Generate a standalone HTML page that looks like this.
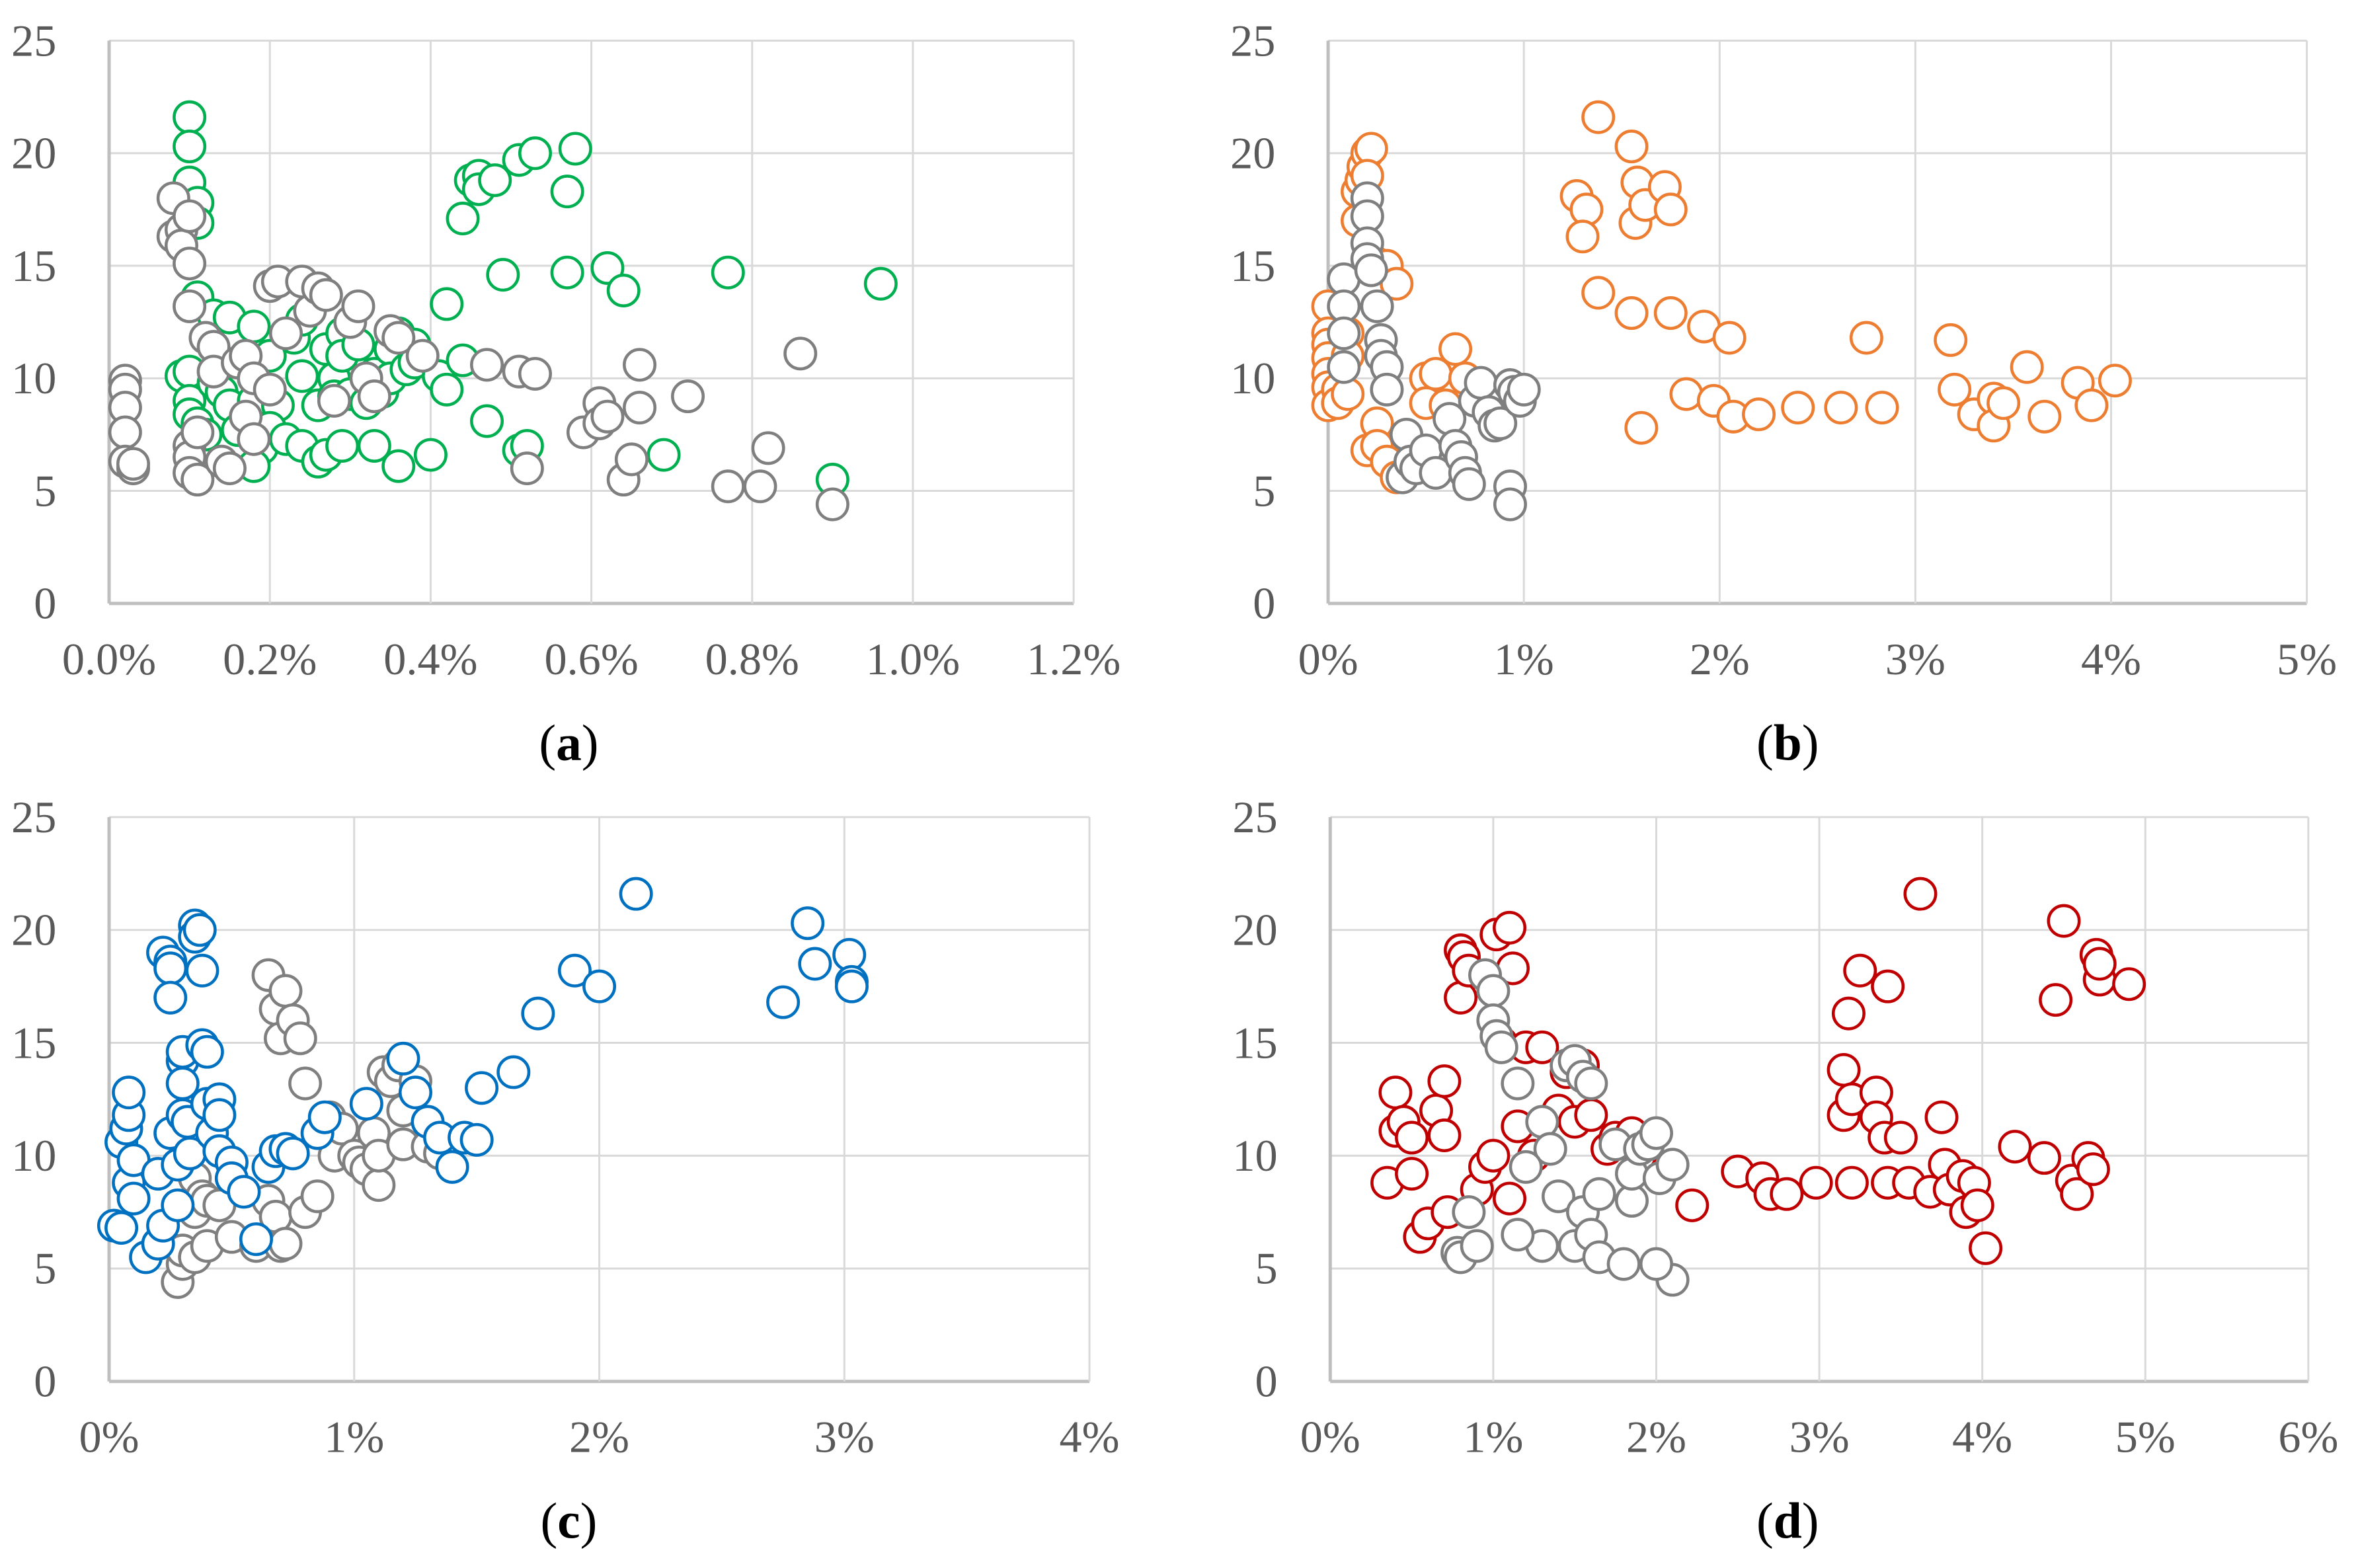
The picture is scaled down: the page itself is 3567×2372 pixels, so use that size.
<!DOCTYPE html>
<html><head><meta charset="utf-8"><style>
html,body{margin:0;padding:0;background:#fff;}
svg{display:block;}
svg text{font-family:"Liberation Serif","Times New Roman",Times,serif !important;}
</style></head><body>
<svg id="root" width="3567" height="2372" viewBox="0 0 1567 1042" xmlns="http://www.w3.org/2000/svg"></svg>
<script>
const yTicks=[0,5,10,15,20,25];
const xTicksA=[0,0.2,0.4,0.6,0.8,1.0,1.2];
const xLabelsA=["0.0%","0.2%","0.4%","0.6%","0.8%","1.0%","1.2%"];
const xTicksB=[0,1,2,3,4,5];
const xLabelsB=["0%","1%","2%","3%","4%","5%"];
const xTicksC=[0,1,2,3,4];
const xLabelsC=["0%","1%","2%","3%","4%"];
const xTicksD=[0,1,2,3,4,5,6];
const xLabelsD=["0%","1%","2%","3%","4%","5%","6%"];

const grayA=[[0.02,9.9],[0.02,9.5],[0.02,8.7],[0.02,7.6],[0.02,6.3],[0.03,6],[0.03,6.2],[0.08,18],[0.08,16.3],[0.09,16.6],[0.09,15.9],[0.1,17.2],[0.1,15.1],[0.1,13.2],[0.1,7],[0.1,6.5],[0.1,5.8],[0.11,5.5],[0.11,7.6],[0.12,11.8],[0.13,11.4],[0.13,10.3],[0.14,6.3],[0.15,6],[0.16,10.7],[0.17,11],[0.17,8.3],[0.18,10],[0.18,7.3],[0.2,9.5],[0.2,14.1],[0.21,14.3],[0.22,12],[0.24,14.3],[0.25,13],[0.26,14],[0.27,13.7],[0.28,9],[0.3,12.5],[0.31,13.2],[0.32,10],[0.33,9.2],[0.35,12.1],[0.36,11.8],[0.39,11],[0.47,10.6],[0.51,10.3],[0.52,6],[0.53,10.2],[0.59,7.6],[0.61,8.9],[0.61,8],[0.62,8.3],[0.64,5.5],[0.65,6.4],[0.66,8.7],[0.66,10.6],[0.72,9.2],[0.77,5.2],[0.81,5.2],[0.82,6.9],[0.86,11.1],[0.9,4.4]];
const greenA=[[0.1,21.6],[0.1,20.3],[0.1,18.7],[0.11,17.8],[0.11,16.9],[0.11,13.6],[0.09,10.1],[0.1,10.3],[0.1,9],[0.1,8.4],[0.11,8],[0.12,7.5],[0.13,12.8],[0.15,12.7],[0.13,9.8],[0.14,9.4],[0.15,8.8],[0.16,7.7],[0.17,11],[0.18,12.3],[0.18,10],[0.18,9],[0.19,6.9],[0.18,6.1],[0.2,11],[0.21,8.8],[0.2,7.8],[0.22,7.3],[0.23,11.8],[0.24,12.6],[0.24,10.1],[0.24,7],[0.26,6.3],[0.27,6.6],[0.26,8.8],[0.27,11.3],[0.28,10],[0.28,9.2],[0.29,12],[0.29,11],[0.29,7],[0.3,9.3],[0.31,11.5],[0.32,8.9],[0.33,10.2],[0.33,7],[0.34,9.4],[0.35,11.3],[0.35,10],[0.36,12],[0.36,6.1],[0.37,10.4],[0.38,11.5],[0.38,10.7],[0.4,6.6],[0.41,10.1],[0.42,13.3],[0.42,9.5],[0.44,17.1],[0.44,10.8],[0.45,18.8],[0.46,19],[0.46,18.4],[0.47,8.1],[0.48,18.8],[0.49,14.6],[0.51,19.7],[0.51,6.8],[0.52,7],[0.53,20],[0.57,18.3],[0.57,14.7],[0.58,20.2],[0.62,14.9],[0.64,13.9],[0.69,6.6],[0.77,14.7],[0.9,5.5],[0.96,14.2]];
const grayB=[[0.08,14.4],[0.08,13.2],[0.08,12],[0.08,10.5],[0.2,18],[0.2,17.2],[0.2,16],[0.2,15.3],[0.22,14.8],[0.25,13.2],[0.27,11.7],[0.27,11],[0.3,10.5],[0.3,9.5],[0.38,5.6],[0.4,7.5],[0.42,6.3],[0.45,6],[0.5,6.8],[0.55,5.8],[0.62,8.2],[0.65,7],[0.68,6.5],[0.7,5.8],[0.72,5.3],[0.75,9],[0.78,9.8],[0.82,8.5],[0.85,7.9],[0.88,8],[0.93,9.7],[0.95,9.4],[0.98,9],[1,9.5],[0.93,5.2],[0.93,4.4]];
const orangeB=[[0,13.2],[0,12],[0,11.5],[0,10.9],[0,10.2],[0,9.6],[0,8.8],[0.05,9.5],[0.05,8.9],[0.1,9.3],[0.1,12],[0.1,11],[0.15,17],[0.15,18.3],[0.17,18.8],[0.18,19.4],[0.2,20],[0.22,20.2],[0.2,19],[0.25,15.1],[0.3,15],[0.35,14.2],[0.25,8],[0.2,6.8],[0.25,7],[0.3,6.3],[0.35,5.6],[0.5,10],[0.5,8.9],[0.55,10.2],[0.6,8.8],[0.65,11.3],[0.7,10],[1.27,18.1],[1.32,17.5],[1.3,16.3],[1.38,21.6],[1.38,13.8],[1.55,20.3],[1.55,12.9],[1.57,16.9],[1.58,18.7],[1.62,17.7],[1.72,18.5],[1.75,17.5],[1.6,7.8],[1.75,12.9],[1.83,9.3],[1.92,12.3],[1.97,9],[2.05,11.8],[2.07,8.3],[2.2,8.4],[2.4,8.7],[2.62,8.7],[2.75,11.8],[2.83,8.7],[3.18,11.7],[3.2,9.5],[3.3,8.4],[3.4,9.1],[3.4,7.9],[3.45,8.9],[3.57,10.5],[3.66,8.3],[3.83,9.8],[3.9,8.8],[4.02,9.9]];
const grayC=[[0.28,4.4],[0.3,5.2],[0.3,5.8],[0.35,5.5],[0.35,7.5],[0.35,9],[0.38,8.2],[0.4,8],[0.4,6],[0.45,7.8],[0.5,6.4],[0.6,6],[0.65,18],[0.68,16.5],[0.7,15.2],[0.72,17.3],[0.75,16],[0.78,15.2],[0.8,13.2],[0.65,8],[0.68,7.3],[0.7,6],[0.72,6.1],[0.8,7.5],[0.85,8.2],[0.9,11.7],[0.92,10],[0.95,11.2],[1,10],[1.02,9.7],[1.05,9.4],[1.08,11],[1.1,8.7],[1.1,10],[1.12,13.7],[1.15,13.3],[1.18,14],[1.2,12],[1.2,10.5],[1.25,13.3],[1.3,10.4],[1.35,10.1]];
const blueC=[[0.02,6.9],[0.05,6.8],[0.05,10.6],[0.07,11.2],[0.08,11.8],[0.08,12.8],[0.08,8.8],[0.1,8.1],[0.1,9.8],[0.15,5.5],[0.2,9.2],[0.2,6.1],[0.22,6.9],[0.22,19],[0.25,18.6],[0.25,18.3],[0.25,17],[0.25,11],[0.28,7.8],[0.28,9.6],[0.3,14.2],[0.3,14.6],[0.3,13.2],[0.3,11.8],[0.32,11.5],[0.33,10.1],[0.35,20.2],[0.35,19.7],[0.37,20],[0.38,18.2],[0.38,14.9],[0.4,14.6],[0.4,12.3],[0.42,11],[0.45,12.5],[0.45,11.8],[0.45,10.2],[0.5,9.7],[0.5,9],[0.55,8.4],[0.6,6.3],[0.65,9.5],[0.68,10.2],[0.72,10.3],[0.75,10.1],[0.85,11],[0.88,11.7],[1.05,12.3],[1.2,14.3],[1.25,12.8],[1.3,11.5],[1.35,10.8],[1.4,9.5],[1.45,10.8],[1.5,10.7],[1.52,13],[1.65,13.7],[1.75,16.3],[1.9,18.2],[2,17.5],[2.15,21.6],[2.75,16.8],[2.85,20.3],[2.88,18.5],[3.02,18.9],[3.03,17.7],[3.03,17.5]];
const grayD=[[0.78,5.7],[0.8,5.5],[0.85,7.5],[0.9,6],[0.95,18],[1,17.3],[1,16],[1.02,15.3],[1.05,14.8],[1.15,13.2],[1.3,11.5],[1.35,10.3],[1.4,8.2],[1.45,14],[1.5,14.2],[1.55,13.5],[1.6,13.2],[1.5,6],[1.55,7.5],[1.6,6.5],[1.65,5.5],[1.65,8.3],[1.75,10.5],[1.8,5.2],[1.85,8],[1.85,9.2],[1.9,10.3],[1.95,10.5],[2,11],[2.02,9],[2.1,9.6],[2.1,4.5],[2,5.2],[1.3,6],[1.15,6.5],[1.2,9.5]];
const redD=[[0.35,8.8],[0.4,12.8],[0.4,11.1],[0.45,11.5],[0.5,9.2],[0.5,10.8],[0.55,6.4],[0.6,7],[0.65,12],[0.7,13.3],[0.7,10.9],[0.72,7.5],[0.8,17],[0.8,19.1],[0.82,18.8],[0.85,18.2],[0.9,8.5],[0.95,9.5],[1,10],[1.02,19.8],[1.05,15],[1.1,20.1],[1.12,18.3],[1.15,11.3],[1.1,8.1],[1.2,14.8],[1.25,10],[1.3,14.8],[1.4,12],[1.45,13.7],[1.5,11.5],[1.55,14],[1.6,11.8],[1.7,10.3],[1.75,10.8],[1.85,11],[1.9,10],[2.22,7.8],[2.5,9.3],[2.65,9],[2.7,8.3],[2.8,8.3],[2.98,8.8],[3.15,11.8],[3.15,13.8],[3.18,16.3],[3.2,12.5],[3.2,8.8],[3.25,18.2],[3.35,12.8],[3.35,11.7],[3.4,10.8],[3.42,17.5],[3.42,8.8],[3.5,10.8],[3.55,8.8],[3.62,21.6],[3.68,8.4],[3.75,11.7],[3.77,9.6],[3.8,8.5],[3.88,9.1],[3.9,7.5],[3.95,8.8],[3.97,7.8],[4.02,5.9],[4.2,10.4],[4.38,9.9],[4.45,16.9],[4.5,20.4],[4.55,8.9],[4.58,8.3],[4.65,9.9],[4.68,9.4],[4.7,18.9],[4.72,17.8],[4.72,18.5],[4.9,17.6]];

const NS="http://www.w3.org/2000/svg";
const root=document.getElementById('root');
function mk(tag,attrs,parent){const e=document.createElementNS(NS,tag);for(const k in attrs)e.setAttribute(k,attrs[k]);parent.appendChild(e);return e;}
const FF="'Liberation Serif', 'Times New Roman', serif";

function panel(id,x0,x1,y0,y1,xmax,xt,xl,series,capX,capY){
  const g=mk('g',{},root);
  
  
  const sx=v=>x0+(x1-x0)*v/xmax;
  const sy=v=>y0+(y1-y0)*v/25;
  yTicks.forEach(t=>{
    const l=mk('line',{x1:x0,x2:x1,y1:sy(t),y2:sy(t),stroke:t===0?'#bfbfbf':'#d9d9d9','stroke-width':t===0?2.2:1.3},g);
    
    
    const tx=mk('text',{x:x0-35,y:sy(t)+10,'text-anchor':'end','font-size':30,fill:'#595959','font-family':FF},g);
    tx.textContent=t;
    
    
  });
  xt.forEach((t,i)=>{
    const l=mk('line',{x1:sx(t),x2:sx(t),y1:sy(25),y2:sy(0),stroke:i===0?'#bfbfbf':'#d9d9d9','stroke-width':i===0?2.2:1.3},g);
    
    
    const tx=mk('text',{x:sx(t),y:y0+47,'text-anchor':'middle','font-size':30,fill:'#595959','font-family':FF},g);
    tx.textContent=xl[i];
    
    
  });
  series.forEach(s=>{
    s.data.forEach(p=>{
      const c=mk('circle',{cx:sx(p[0]),cy:sy(p[1]),r:10.2,fill:'#fff',stroke:s.color,'stroke-width':2},g);
      
      
    });
  });
  const cap=mk('text',{x:capX,y:capY,'text-anchor':'middle','font-size':34,fill:'#000','font-family':FF},g);
  
  
  cap.innerHTML='(<tspan font-weight="bold">'+id+'</tspan>)';
}
panel('a',72.5,713.5,401,27,1.2,xTicksA,xLabelsA,[{name:'green',color:'#00b050',data:greenA},{name:'gray',color:'#7f7f7f',data:grayA}],378,505);
panel('b',882.6,1533,401,27,5,xTicksB,xLabelsB,[{name:'orange',color:'#ed7d31',data:orangeB},{name:'gray',color:'#7f7f7f',data:grayB}],1188,505);
panel('c',72.5,724,918,543,4,xTicksC,xLabelsC,[{name:'gray',color:'#7f7f7f',data:grayC},{name:'blue',color:'#0070c0',data:blueC}],378,1022);
panel('d',884,1534,918,543,6,xTicksD,xLabelsD,[{name:'red',color:'#c00000',data:redD},{name:'gray',color:'#7f7f7f',data:grayD}],1188,1022);
</script>
</body></html>
